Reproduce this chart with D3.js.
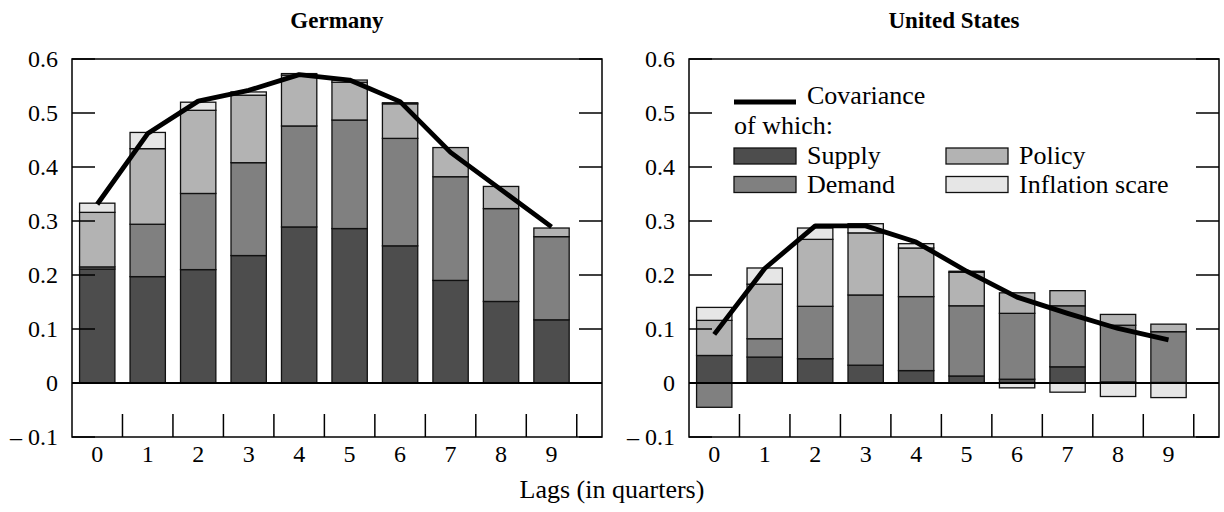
<!DOCTYPE html>
<meta charset="utf-8">
<style>
  body { margin: 0; background: #fff; }
  text { font-family: "Liberation Serif", "Times New Roman", serif; fill: #000; }
</style>
<svg width="1224" height="512"></svg>
<script src="https://d3js.org/d3.v7.min.js"></script>
<script>

// lags on the x axis
var lags = [0, 1, 2, 3, 4, 5, 6, 7, 8, 9];
var keys = ["Supply", "Demand", "Policy", "Inflation scare"];
var yTicks = [-0.1, 0, 0.1, 0.2, 0.3, 0.4, 0.5, 0.6];
var yTickLabels = ["\u2013 0.1", "0", "0.1", "0.2", "0.3", "0.4", "0.5", "0.6"];

// Germany
var deSupply    = [0.211, 0.197, 0.210, 0.236, 0.289, 0.286, 0.254, 0.190, 0.151, 0.117];
var deDemand    = [0.004, 0.097, 0.141, 0.172, 0.187, 0.201, 0.199, 0.192, 0.172, 0.154];
var dePolicy    = [0.101, 0.140, 0.154, 0.125, 0.094, 0.070, 0.064, 0.054, 0.041, 0.016];
var deInflation = [0.017, 0.030, 0.015, 0.006, 0.003, 0.004, 0.002, 0.000, 0.000, 0.000];
var deCov       = [0.331, 0.462, 0.522, 0.542, 0.571, 0.561, 0.521, 0.427, 0.358, 0.289];

// United States
var usSupply    = [0.051, 0.048, 0.045, 0.033, 0.023, 0.013, 0.007, 0.030, 0.002, 0.001];
var usDemand    = [-0.045, 0.034, 0.097, 0.130, 0.137, 0.130, 0.122, 0.113, 0.105, 0.094];
var usPolicy    = [0.065, 0.101, 0.124, 0.115, 0.090, 0.062, 0.038, 0.028, 0.020, 0.014];
var usInflation = [0.024, 0.030, 0.021, 0.017, 0.008, 0.002, -0.009, -0.017, -0.025, -0.027];
var usCov       = [0.090, 0.212, 0.291, 0.291, 0.261, 0.207, 0.159, 0.129, 0.101, 0.080];

var colors = {"Supply": "#4d4d4d", "Demand": "#808080", "Policy": "#b3b3b3", "Inflation scare": "#e6e6e6"};

var svg = d3.select("svg");

var frameW = 530, plotTop = 59, plotBottom = 437;

var y = d3.scaleLinear().domain([-0.1, 0.6]).range([plotBottom, plotTop]);

function table(s, d, p, inf) {
  return lags.map(function(l, i) {
    return {lag: l, "Supply": s[i], "Demand": d[i], "Policy": p[i], "Inflation scare": inf[i]};
  });
}

var stack = d3.stack().keys(keys).offset(d3.stackOffsetDiverging);

function panel(x0, title, rows, cov) {
  var g = svg.append("g").attr("transform", "translate(" + x0 + ",0)");

  var x = d3.scaleBand()
      .domain(lags)
      .range([0, frameW * 10 / 10.5])
      .paddingInner(0.3)
      .paddingOuter(0.15);

  var series = stack(rows);

  g.selectAll("g.layer")
    .data(series)
    .enter().append("g")
      .attr("class", "layer")
      .attr("fill", function(d) { return colors[d.key]; })
    .selectAll("rect")
    .data(function(d) { return d.filter(function(v) { return v[1] !== v[0]; }); })
    .enter().append("rect")
      .attr("x", function(d) { return x(d.data.lag); })
      .attr("width", x.bandwidth())
      .attr("y", function(d) { return y(Math.max(d[0], d[1])); })
      .attr("height", function(d) { return Math.abs(y(d[0]) - y(d[1])); })
      .attr("stroke", "#111")
      .attr("stroke-width", 1.3);

  // zero line
  g.append("line")
      .attr("x1", 0).attr("x2", frameW)
      .attr("y1", y(0)).attr("y2", y(0))
      .attr("stroke", "#000").attr("stroke-width", 2);

  // covariance line
  var line = d3.line()
      .x(function(d, i) { return x(lags[i]) + x.bandwidth() / 2; })
      .y(function(d) { return y(d); });

  g.append("path")
      .datum(cov)
      .attr("d", line)
      .attr("fill", "none")
      .attr("stroke", "#000")
      .attr("stroke-width", 4.8)
      .attr("stroke-linejoin", "round");

  // frame
  g.append("rect")
      .attr("x", 0).attr("y", plotTop)
      .attr("width", frameW).attr("height", plotBottom - plotTop)
      .attr("fill", "none")
      .attr("stroke", "#000").attr("stroke-width", 1.5);

  // inward y ticks on both sides
  g.selectAll("line.yl")
    .data(yTicks)
    .enter().append("line")
      .attr("x1", 0).attr("x2", 23)
      .attr("y1", function(d) { return y(d); })
      .attr("y2", function(d) { return y(d); })
      .attr("stroke", "#000").attr("stroke-width", 1.5);

  g.selectAll("line.yr")
    .data(yTicks)
    .enter().append("line")
      .attr("x1", frameW - 23).attr("x2", frameW)
      .attr("y1", function(d) { return y(d); })
      .attr("y2", function(d) { return y(d); })
      .attr("stroke", "#000").attr("stroke-width", 1.5);

  g.selectAll("text.ytl")
    .data(yTicks)
    .enter().append("text")
      .attr("x", -14)
      .attr("y", function(d) { return y(d); })
      .attr("dy", "0.33em")
      .attr("text-anchor", "end")
      .style("font-size", "24px")
      .text(function(d, i) { return yTickLabels[i]; });

  // category separator ticks at the bottom
  g.selectAll("line.xt")
    .data(lags)
    .enter().append("line")
      .attr("x1", function(d) { return x(d) - x.step() * 0.15 + x.step(); })
      .attr("x2", function(d) { return x(d) - x.step() * 0.15 + x.step(); })
      .attr("y1", plotBottom - 23).attr("y2", plotBottom)
      .attr("stroke", "#000").attr("stroke-width", 1.5);

  g.selectAll("text.xtl")
    .data(lags)
    .enter().append("text")
      .attr("x", function(d) { return x(d) + x.bandwidth() / 2; })
      .attr("y", 462)
      .attr("text-anchor", "middle")
      .style("font-size", "24px")
      .text(function(d) { return d; });

  g.append("text")
      .attr("x", frameW / 2)
      .attr("y", 28)
      .attr("text-anchor", "middle")
      .style("font-size", "23px")
      .style("font-weight", "bold")
      .text(title);

  return g;
}

panel(72, "Germany", table(deSupply, deDemand, dePolicy, deInflation), deCov);
var us = panel(689, "United States", table(usSupply, usDemand, usPolicy, usInflation), usCov);

// legend inside the US panel
var lg = us.append("g").attr("transform", "translate(45,0)");

lg.append("line")
    .attr("x1", 0).attr("x2", 62)
    .attr("y1", 102).attr("y2", 102)
    .attr("stroke", "#000").attr("stroke-width", 4.8);
lg.append("text")
    .attr("x", 73).attr("y", 104)
    .style("font-size", "26px")
    .text("Covariance");
lg.append("text")
    .attr("x", 0).attr("y", 134)
    .style("font-size", "26px")
    .text("of which:");

var legendItems = [
  {key: "Supply", col: 0, row: 0},
  {key: "Policy", col: 1, row: 0},
  {key: "Demand", col: 0, row: 1},
  {key: "Inflation scare", col: 1, row: 1}
];

var item = lg.selectAll("g.item")
  .data(legendItems)
  .enter().append("g")
    .attr("class", "item")
    .attr("transform", function(d) { return "translate(" + (d.col * 212) + "," + (148 + d.row * 28.5) + ")"; });

item.append("rect")
    .attr("width", 62).attr("height", 16)
    .attr("fill", function(d) { return colors[d.key]; })
    .attr("stroke", "#111").attr("stroke-width", 1.3);

item.append("text")
    .attr("x", 73).attr("y", 16)
    .style("font-size", "26px")
    .text(function(d) { return d.key; });

svg.append("text")
    .attr("x", 612).attr("y", 498)
    .attr("text-anchor", "middle")
    .style("font-size", "26px")
    .text("Lags (in quarters)");

</script>
